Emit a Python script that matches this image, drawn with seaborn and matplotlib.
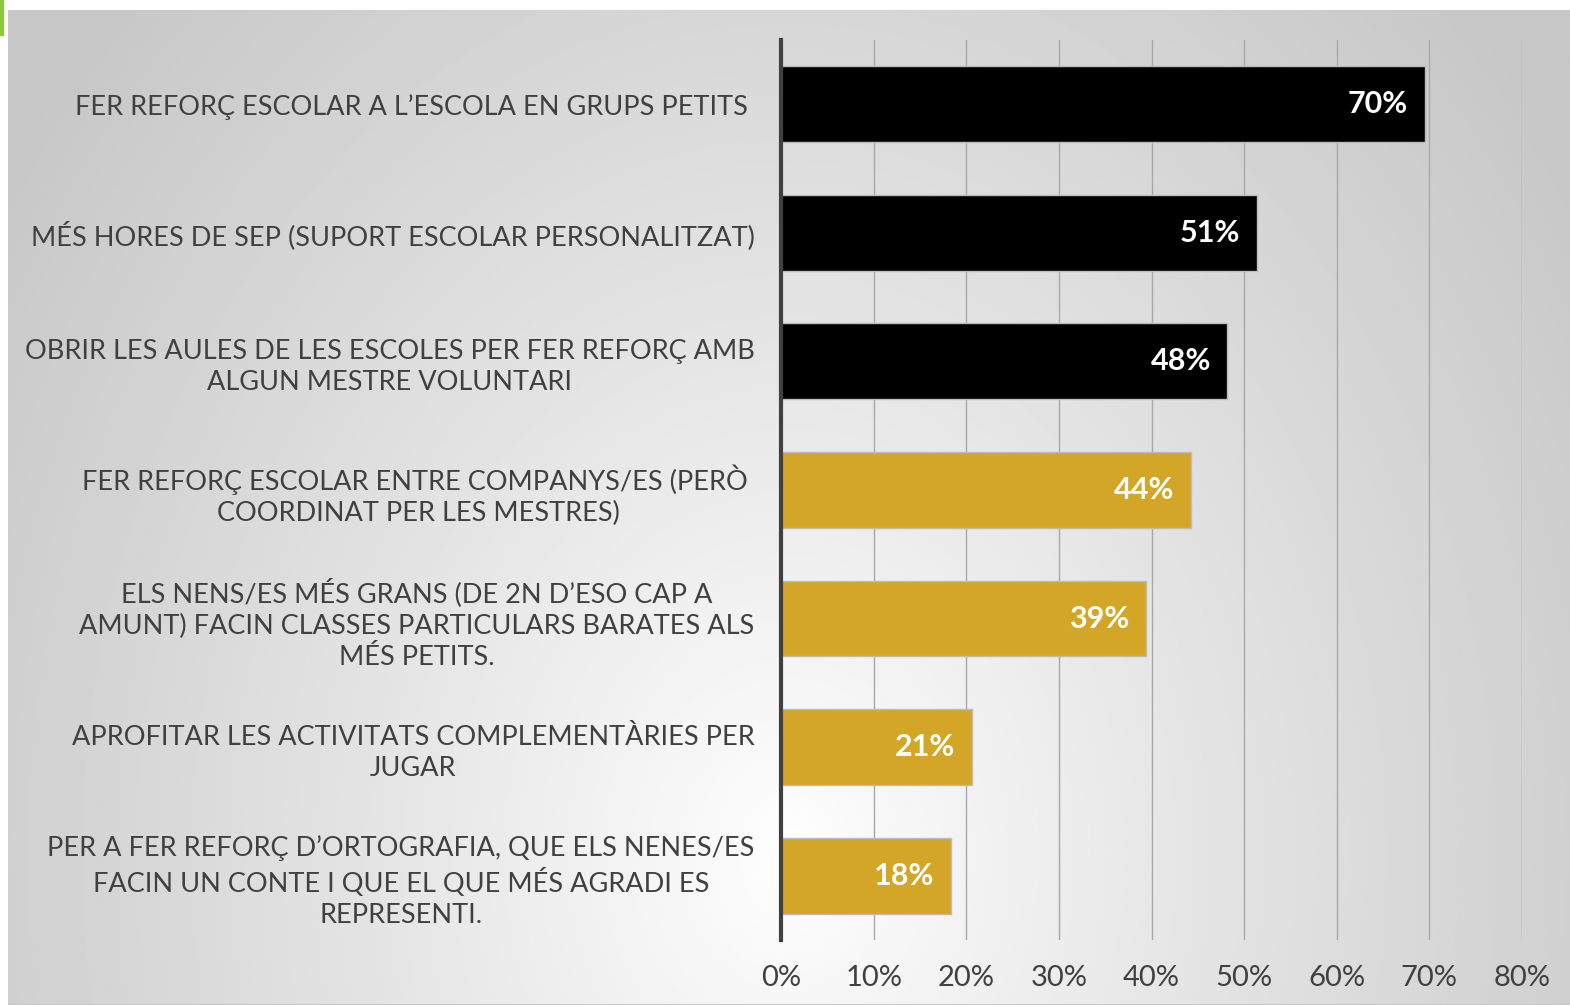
import numpy as np
import pandas as pd
import matplotlib
matplotlib.use("Agg")
import matplotlib.pyplot as plt
import seaborn as sns

# dades
propostes = [
    "FER REFORÇ ESCOLAR A L’ESCOLA EN GRUPS PETITS ",
    "MÉS HORES DE SEP (SUPORT ESCOLAR PERSONALITZAT)",
    "OBRIR LES AULES DE LES ESCOLES PER FER REFORÇ AMB\nALGUN MESTRE VOLUNTARI",
    "FER REFORÇ ESCOLAR ENTRE COMPANYS/ES (PERÒ \nCOORDINAT PER LES MESTRES)",
    "ELS NENS/ES MÉS GRANS (DE 2N D’ESO CAP A\nAMUNT) FACIN CLASSES PARTICULARS BARATES ALS\nMÉS PETITS.",
    "APROFITAR LES ACTIVITATS COMPLEMENTÀRIES PER\nJUGAR",
    "PER A FER REFORÇ D’ORTOGRAFIA, QUE ELS NENES/ES\nFACIN UN CONTE I QUE EL QUE MÉS AGRADI ES\nREPRESENTI.",
]
percentatges = [0.695, 0.514, 0.482, 0.443, 0.394, 0.206, 0.184]
etiquetes = ["70%", "51%", "48%", "44%", "39%", "21%", "18%"]
grup = ["top", "top", "top", "resta", "resta", "resta", "resta"]
colors = {"top": "#000000", "resta": "#D4A628"}
xticks = [0, 0.1, 0.2, 0.3, 0.4, 0.5, 0.6, 0.7, 0.8]
xtick_labels = ["0%", "10%", "20%", "30%", "40%", "50%", "60%", "70%", "80%"]

df = pd.DataFrame({"proposta": propostes, "pct": percentatges, "grup": grup})

sns.set_theme(style="white")
plt.rcParams["font.family"] = ["Lato", "DejaVu Sans"]

fig = plt.figure(figsize=(15.7, 10.05), dpi=100)

# fons amb degradat radial
bg = fig.add_axes([8 / 1570, 0, 1 - 8 / 1570, 1 - 10 / 1005], zorder=-10)
yy, xx = np.mgrid[0:1:400j, 0:1:600j]
r = np.sqrt(((xx - 0.5) / 0.55) ** 2 + ((yy - 0.85) / 1.1) ** 2)
grad = np.clip(1.0 - 0.2 * r ** 0.9, 0.78, 1.0)
bg.imshow(grad, cmap="gray", vmin=0, vmax=1, aspect="auto", extent=[0, 1, 1, 0])
bg.axhline(1.0, color="#c4c4c4", lw=2)
bg.set_axis_off()
fig.patches.append(plt.Rectangle((0, 1 - 35 / 1005), 3 / 1570, 35 / 1005,
                                 transform=fig.transFigure, color="#8DC63F"))

ax = fig.add_axes([781 / 1570, 65 / 1005, (1522 - 781) / 1570, (940 - 40) / 1005])
ax.patch.set_alpha(0)

sns.barplot(data=df, x="pct", y="proposta", hue="grup", palette=colors,
            dodge=False, width=0.59, legend=False, ax=ax, saturation=1,
            edgecolor="#bcbcbc", linewidth=1)

for i, (v, t) in enumerate(zip(percentatges, etiquetes)):
    ax.text(v - 0.018, i, t, ha="right", va="center", color="white",
            fontsize=22, fontweight="bold")

ax.set_xlim(0, 0.8)
ax.set_ylim(6.5, -0.5)
ax.set_xticks(xticks)
ax.set_xticklabels(xtick_labels, fontsize=21, color="#404040")
ax.tick_params(axis="x", pad=18, length=0)
ax.tick_params(axis="y", pad=19, length=0)
for lab in ax.get_yticklabels():
    lab.set_multialignment("center")
    lab.set_fontsize(19.5)
    lab.set_linespacing(1.3)
    lab.set_color("#404040")
ax.xaxis.grid(True, color="#a8a8a8", lw=1)
ax.set_axisbelow(True)
for s in ["top", "right", "bottom"]:
    ax.spines[s].set_visible(False)
ax.spines["left"].set_color("#404040")
ax.spines["left"].set_linewidth(3)
ax.set_xlabel("")
ax.set_ylabel("")

fig.savefig("out.png", dpi=100)
